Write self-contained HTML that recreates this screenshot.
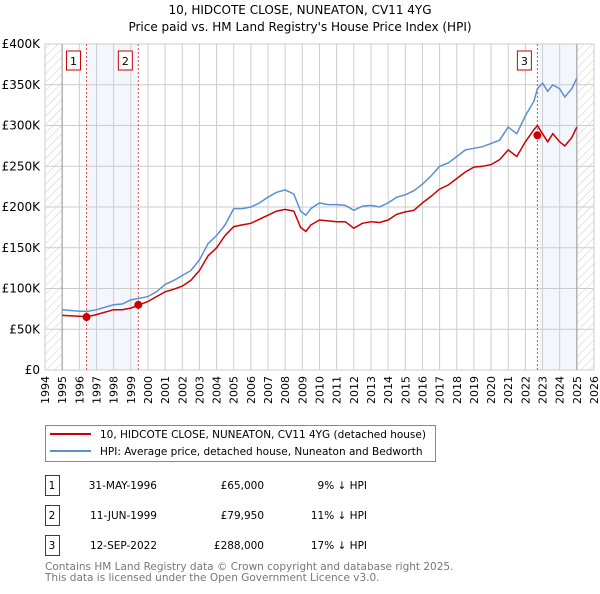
<!DOCTYPE html>
<html><head><meta charset="utf-8"><style>
body{margin:0;background:#fff;font-family:"DejaVu Sans","Liberation Sans",sans-serif;}
svg text{font-family:"DejaVu Sans","Liberation Sans",sans-serif;}
</style></head><body>
<svg id="chart" width="600" height="590" viewBox="0 0 600 590" xmlns="http://www.w3.org/2000/svg">
<defs><pattern id="hatch" width="6" height="6" patternUnits="userSpaceOnUse" patternTransform="rotate(45)"><line x1="0" y1="0" x2="0" y2="6" stroke="#ccc" stroke-width="1"/></pattern></defs>
<text x="300" y="14" text-anchor="middle" font-size="12">10, HIDCOTE CLOSE, NUNEATON, CV11 4YG</text>
<text x="300" y="31" text-anchor="middle" font-size="12">Price paid vs. HM Land Registry's House Price Index (HPI)</text>
<g id="plot"></g>
<g>
<rect x="45.5" y="425.5" width="390" height="36" fill="#fff" stroke="#888"/>
<line x1="50" y1="434" x2="91" y2="434" stroke="#cc0000" stroke-width="2"/>
<text x="100" y="438" font-size="10.5">10, HIDCOTE CLOSE, NUNEATON, CV11 4YG (detached house)</text>
<line x1="50" y1="451" x2="91" y2="451" stroke="#5b8fd4" stroke-width="2"/>
<text x="100" y="455" font-size="10.5">HPI: Average price, detached house, Nuneaton and Bedworth</text>
</g>
<g id="table" font-size="10.5"></g>
<text x="45" y="570" font-size="10.5" fill="#777">Contains HM Land Registry data © Crown copyright and database right 2025.</text>
<text x="45" y="581" font-size="10.5" fill="#777">This data is licensed under the Open Government Licence v3.0.</text>
</svg>
<script>
const hpiYears=[1995,1996,1996.5,1997,1998,1998.5,1999,1999.5,2000,2000.5,2001,2001.5,2002,2002.5,2003,2003.5,2004,2004.5,2005,2005.5,2006,2006.5,2007,2007.5,2008,2008.5,2008.9,2009.2,2009.5,2010,2010.5,2011,2011.5,2012,2012.5,2013,2013.5,2014,2014.5,2015,2015.5,2016,2016.5,2017,2017.5,2018,2018.5,2019,2019.5,2020,2020.5,2021,2021.5,2022,2022.5,2022.7,2023,2023.3,2023.6,2024,2024.3,2024.7,2025];
const hpiValues=[74,72,72,74,80,81,86,88,90,96,105,110,116,122,135,155,165,178,198,198,200,205,212,218,221,216,195,190,198,205,203,203,202,196,201,202,200,205,212,215,220,228,238,250,254,262,270,272,274,278,282,298,290,312,330,345,352,342,350,345,335,345,358];
const priceValues=[67,66,65.5,68,74,74,76,80,84,90,96,99,103,110,122,140,150,165,176,178,180,185,190,195,197,195,175,170,178,184,183,182,182,174,180,182,181,184,191,194,196,205,213,222,227,235,243,249,250,252,258,270,262,280,295,300,290,280,290,280,275,285,298];
const sales=[{n:"1",t:1996.42,v:65,d:"31-MAY-1996",p:"£65,000",h:"9% ↓ HPI"},{n:"2",t:1999.44,v:79.95,d:"11-JUN-1999",p:"£79,950",h:"11% ↓ HPI"},{n:"3",t:2022.7,v:288,d:"12-SEP-2022",p:"£288,000",h:"17% ↓ HPI"}];
const yTicks=[0,50,100,150,200,250,300,350,400];
const yTickLabels=["£0","£50K","£100K","£150K","£200K","£250K","£300K","£350K","£400K"];
const xStart=1994,xEnd=2026;
const X0=45,X1=594,Y0=370,Y1=44;
const sx=t=>X0+(t-xStart)*(X1-X0)/(xEnd-xStart);
const sy=v=>Y0-v*(Y0-Y1)/400;
const NS="http://www.w3.org/2000/svg";
const plot=document.getElementById('plot');
function mk(tag,attrs,parent){const e=document.createElementNS(NS,tag);for(const k in attrs)e.setAttribute(k,attrs[k]);(parent||plot).appendChild(e);return e;}
let s=mk('rect',{x:sx(sales[0].t),y:Y1,width:sx(sales[1].t)-sx(sales[0].t),height:Y0-Y1,fill:'#eef3fc',opacity:0.7});


s=mk('rect',{x:sx(sales[2].t),y:Y1,width:sx(2025)-sx(sales[2].t),height:Y0-Y1,fill:'#eef3fc',opacity:0.7});


s=mk('rect',{x:X0,y:Y1,width:sx(1995)-X0,height:Y0-Y1,fill:'url(#hatch)'});


s=mk('rect',{x:sx(2025),y:Y1,width:X1-sx(2025),height:Y0-Y1,fill:'url(#hatch)'});


for(let y=xStart;y<=xEnd;y++){const l=mk('line',{x1:sx(y),x2:sx(y),y1:Y1,y2:Y0,stroke:'#ccc','stroke-width':1});


const t=mk('text',{x:0,y:0,'font-size':11,'text-anchor':'end',transform:`translate(${sx(y)+4},${Y0+6}) rotate(-90)`});t.textContent=y;

}
yTicks.forEach((v,i)=>{const l=mk('line',{x1:X0,x2:X1,y1:sy(v),y2:sy(v),stroke:'#ccc','stroke-width':1});


const t=mk('text',{x:X0-5,y:sy(v)+4,'font-size':12,'text-anchor':'end'});t.textContent=yTickLabels[i];

});
[1995,2025].forEach(y=>{const l=mk('line',{x1:sx(y),x2:sx(y),y1:Y1,y2:Y0,stroke:'#999','stroke-width':1});

});
sales.forEach(d=>{const l=mk('line',{x1:sx(d.t),x2:sx(d.t),y1:Y1,y2:Y0,stroke:'#e05050','stroke-width':1,'stroke-dasharray':'2,2'});


const g=mk('g',{});


mk('rect',{x:sx(d.t)-20,y:51,width:14,height:19,fill:'#fff',stroke:'#cc0000'},g);
const t=mk('text',{x:sx(d.t)-13,y:65,'font-size':11,'text-anchor':'middle'},g);t.textContent=d.n;});
const pts=a=>hpiYears.map((t,i)=>sx(t).toFixed(1)+','+sy(a[i]).toFixed(1)).join(' ');
let p=mk('polyline',{points:pts(hpiValues),fill:'none',stroke:'#5b8fd4','stroke-width':1.5});


p=mk('polyline',{points:pts(priceValues),fill:'none',stroke:'#cc0000','stroke-width':1.5});


sales.forEach(d=>{const c=mk('circle',{cx:sx(d.t),cy:sy(d.v),r:4,fill:'#cc0000'});

});
const tb=document.getElementById('table');
sales.forEach((d,i)=>{const y=483+i*30;const g=mk('g',{},tb);


mk('rect',{x:45.5,y:y-7.5,width:14,height:20,fill:'#fff',stroke:'#cc0000'},g);
let t=mk('text',{x:52,y:y+6,'text-anchor':'middle'},g);t.textContent=d.n;
t=mk('text',{x:157,y:y+6,'text-anchor':'end'},g);t.textContent=d.d;
t=mk('text',{x:264,y:y+6,'text-anchor':'end'},g);t.textContent=d.p;
t=mk('text',{x:367,y:y+6,'text-anchor':'end'},g);t.textContent=d.h;});
</script>
</body></html>
